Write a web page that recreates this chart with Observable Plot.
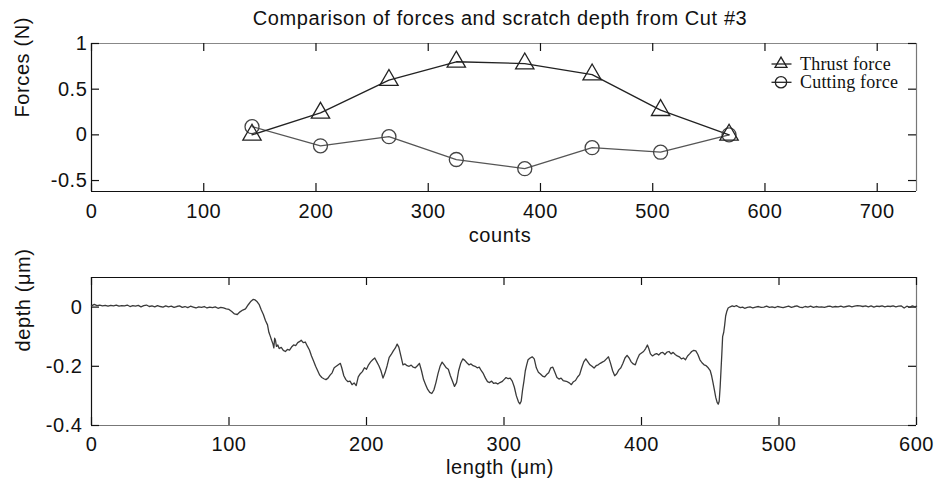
<!DOCTYPE html>
<html>
<head>
<meta charset="utf-8">
<script src="https://cdn.jsdelivr.net/npm/d3@7"></script>
<script src="https://cdn.jsdelivr.net/npm/@observablehq/plot@0.6"></script>
<style>
  body { margin: 0; background: #fff; }
  #wrap { position: relative; width: 934px; height: 487px; font-family: Arial, "Liberation Sans", sans-serif; color: #111; }
  #title { position: absolute; top: 7px; left: 84px; width: 832px; text-align: center; font-size: 20px; letter-spacing: 0.6px; line-height: 22px; white-space: nowrap; }
  #top { position: absolute; top: 0; left: 0; }
  #bot { position: absolute; top: 250px; left: 0; }
  #legend { position: absolute; left: 0; top: 0; font-family: "Liberation Serif", "Times New Roman", serif; font-size: 18px; letter-spacing: 0.2px; }
  #legend svg { position: absolute; left: 765px; top: 50px; display: block; }
  #legend span { position: absolute; left: 800px; line-height: 20px; white-space: nowrap; }
</style>
</head>
<body>
<div id="wrap">
  <div id="top"></div>
  <div id="bot"></div>
  <div id="title">Comparison of forces and scratch depth from Cut #3</div>
  <div id="legend"></div>
</div>
<script>
// ---- Data: forces vs counts ----
const forceCounts  = [143, 204, 265, 325, 386, 446, 507, 568];
const thrustForce  = [0.00, 0.24, 0.60, 0.80, 0.78, 0.66, 0.27, 0.00];
const cuttingForce = [0.09, -0.12, -0.02, -0.27, -0.37, -0.14, -0.19, 0.00];
const forceXTicks  = [0, 100, 200, 300, 400, 500, 600, 700];
const forceYTicks  = [-0.5, 0, 0.5, 1];
const forceXDomain = [0, 735];
const forceYDomain = [-0.62, 1];
const seriesNames  = ["Thrust force", "Cutting force"];

// ---- Data: scratch depth profile [length (µm), depth (µm)] ----
const scanProfile = [
  [0,0.004],[2,0.009],[4,0.005],[6,0.007],[8,0.004],[10,0.006],[12,0.003],[14,0.006],[16,0.004],[18,0.007],
  [20,0.003],[22,0.005],[24,0.004],[26,0.007],[28,0.002],[30,0.005],[32,0.003],[34,0.006],[36,0.001],[38,0.005],
  [40,0.007],[42,0.002],[44,0.004],[46,0.001],[48,0.005],[50,0.002],[52,0.000],[54,0.004],[56,0.001],[58,0.003],
  [60,-0.001],[62,0.002],[64,0.004],[66,-0.001],[68,0.002],[70,-0.002],[72,0.003],[74,0.000],[76,-0.003],[78,0.001],
  [80,-0.001],[82,0.002],[84,-0.003],[86,0.000],[88,-0.002],[90,0.001],[92,-0.004],[94,-0.001],[96,-0.003],[98,-0.006],
  [100,-0.008],[102,-0.015],[104,-0.023],[106,-0.025],[108,-0.016],[110,-0.010],[112,-0.006],[114,0.008],[116,0.020],[117.5,0.026],
  [119,0.024],[120.5,0.018],[122,0.008],[123.5,-0.010],[125,-0.025],[126.5,-0.045],[128,-0.060],[129,-0.085],[130,-0.098],[131,-0.112],
  [132,-0.125],[132.6,-0.138],[133.2,-0.105],[133.8,-0.112],[134.5,-0.133],[135.5,-0.128],[136.5,-0.140],[138,-0.136],[139.5,-0.146],[141,-0.150],
  [142.5,-0.143],[144,-0.145],[145.5,-0.135],[147,-0.128],[148.5,-0.130],[150,-0.120],[151.5,-0.116],[152.5,-0.112],[154,-0.120],[155.5,-0.118],
  [157,-0.132],[158.5,-0.145],[160,-0.165],[161.5,-0.182],[163,-0.200],[164.5,-0.215],[166,-0.230],[167.5,-0.238],[169,-0.242],[170.5,-0.245],
  [172,-0.240],[173.5,-0.230],[175,-0.222],[176.5,-0.205],[178,-0.200],[179.5,-0.195],[181,-0.190],[182,-0.205],[183.5,-0.232],[185,-0.245],
  [186.5,-0.252],[188,-0.250],[189.5,-0.262],[191,-0.256],[192.5,-0.265],[194,-0.236],[195.5,-0.225],[197,-0.218],[198.5,-0.205],[200,-0.210],
  [201.5,-0.195],[203,-0.185],[204.5,-0.178],[206,-0.172],[207.5,-0.185],[209,-0.198],[210.5,-0.215],[212,-0.240],[213.5,-0.222],[215,-0.198],
  [216.5,-0.170],[218,-0.160],[219.5,-0.148],[221,-0.138],[222.3,-0.125],[223.5,-0.135],[225,-0.165],[226.5,-0.195],[228,-0.192],[229.5,-0.198],
  [231,-0.200],[232.5,-0.196],[234,-0.203],[235.5,-0.205],[237,-0.198],[238.5,-0.190],[240,-0.215],[241.5,-0.245],[243,-0.262],[244.5,-0.278],
  [246,-0.288],[247.5,-0.292],[249,-0.280],[250.5,-0.255],[252,-0.225],[253.5,-0.200],[255,-0.186],[256.5,-0.195],[258,-0.205],[259.5,-0.210],
  [261,-0.232],[262.5,-0.250],[264,-0.268],[265.5,-0.255],[267,-0.215],[268.5,-0.190],[270,-0.175],[271.5,-0.180],[273,-0.188],[274.5,-0.195],
  [276,-0.192],[277.5,-0.198],[279,-0.200],[280.5,-0.205],[282,-0.203],[283.5,-0.215],[285,-0.225],[286.5,-0.240],[288,-0.252],[289.5,-0.255],
  [291,-0.250],[292.5,-0.258],[294,-0.256],[295.5,-0.260],[297,-0.255],[298.5,-0.252],[300,-0.245],[301.5,-0.238],[303,-0.242],[304.5,-0.240],
  [306,-0.250],[307.5,-0.270],[309,-0.300],[310.5,-0.320],[311.5,-0.327],[312.5,-0.318],[313.5,-0.280],[314.5,-0.250],[315.5,-0.215],[316.5,-0.195],
  [317.5,-0.178],[319,-0.172],[320.5,-0.168],[322,-0.175],[323.5,-0.205],[325,-0.220],[326.5,-0.226],[328,-0.233],[329.5,-0.236],[331,-0.228],
  [332.5,-0.222],[334,-0.205],[335.5,-0.203],[337,-0.220],[338.5,-0.238],[340,-0.243],[341.5,-0.240],[343,-0.248],[344.5,-0.250],[346,-0.252],
  [347.5,-0.256],[349,-0.262],[350.5,-0.252],[352,-0.248],[353.5,-0.236],[355,-0.228],[356.5,-0.205],[358,-0.185],[359.5,-0.175],[361,-0.185],
  [362.5,-0.195],[364,-0.200],[365.5,-0.206],[367,-0.198],[368.5,-0.195],[370,-0.190],[371.5,-0.186],[373,-0.182],[374.5,-0.175],[376,-0.168],
  [377.5,-0.190],[379,-0.215],[380.5,-0.232],[382,-0.225],[383.5,-0.212],[385,-0.205],[386.5,-0.190],[388,-0.172],[389.5,-0.163],[391,-0.172],
  [392.5,-0.185],[394,-0.192],[395.5,-0.195],[397,-0.175],[398.5,-0.160],[400,-0.155],[401.5,-0.150],[403,-0.140],[404.3,-0.128],[405.3,-0.140],
  [406.5,-0.158],[408,-0.165],[409.5,-0.160],[411,-0.157],[412.5,-0.162],[414,-0.155],[415.5,-0.153],[417,-0.160],[418.5,-0.152],[420,-0.150],
  [421.5,-0.158],[423,-0.153],[424.5,-0.160],[426,-0.165],[427.5,-0.168],[429,-0.175],[430.5,-0.172],[432,-0.178],[433.5,-0.165],[435,-0.158],
  [436.5,-0.150],[438,-0.146],[439.5,-0.148],[441,-0.160],[442.5,-0.178],[444,-0.188],[445.5,-0.195],[447,-0.198],[448.5,-0.205],[450,-0.215],
  [451,-0.232],[452,-0.255],[453,-0.280],[454,-0.305],[455,-0.322],[455.8,-0.328],[456.5,-0.318],[457.2,-0.270],[457.8,-0.215],[458.4,-0.160],
  [459,-0.100],[459.8,-0.085],[460.5,-0.060],[461.2,-0.030],[462,-0.015],[463,-0.003],[464.5,0.001],[466,0.004],[467.5,0.002],[469,0.005],
  [470.5,0.001],[472,-0.002],[473.5,0.000],[475,-0.004],[477,-0.001],[479,0.001],[481,-0.003],[483,0.000],[485,0.002],[487,-0.001],
  [489,0.000],[491,0.003],[493,-0.001],[495,0.001],[497,-0.002],[499,0.002],[501,0.000],[503,-0.002],[505,0.001],[507,0.003],
  [509,-0.001],[511,0.002],[513,0.004],[515,0.000],[517,-0.002],[519,0.002],[521,0.000],[523,0.003],[525,-0.001],[527,0.002],
  [529,0.000],[531,0.001],[533,-0.001],[535,0.002],[537,0.003],[539,0.000],[541,0.002],[543,0.001],[545,0.003],[547,0.000],
  [549,0.002],[551,0.004],[553,0.001],[555,0.003],[557,0.005],[559,0.004],[561,0.002],[563,0.004],[565,0.001],[567,0.004],
  [569,0.000],[571,0.003],[573,0.002],[575,0.004],[577,0.001],[579,0.003],[581,0.002],[583,0.004],[585,0.001],[587,0.003],
  [589,0.004],[591,-0.003],[593,0.003],[595,-0.001],[597,0.004],[599,0.001],[600,0.003]
];
const depthXTicks  = [0, 100, 200, 300, 400, 500, 600];
const depthYTicks  = [-0.4, -0.2, 0];
const depthXDomain = [0, 600];
const depthYDomain = [-0.4, 0.1];

// ---- Build tables ----
const forceRows = forceCounts.map((c, i) => ({count: c, thrust: thrustForce[i], cutting: cuttingForce[i]}));
const depthRows = scanProfile.map(([l, d]) => ({length: l, depth: d}));

const W = 934, ML = 91, MR = 18, TICK = 8;
const fontStyle = {fontFamily: "Arial, 'Liberation Sans', sans-serif", fontSize: "20px", letterSpacing: "0.6px", color: "#111", background: "transparent", overflow: "visible"};
const fmt = d => String(d);

function box(xDomain, yDomain, xTicks, yTicks, frameW, frameH, topDark) {
  return [
    Plot.ruleX([xDomain[0]], {stroke: "#111", strokeWidth: 1.2}),
    Plot.ruleX([xDomain[1]], {stroke: "#777", strokeWidth: 1.2}),
    Plot.ruleY([yDomain[0]], {stroke: topDark ? "#777" : "#111", strokeWidth: 1.2}),
    Plot.ruleY([yDomain[1]], {stroke: topDark ? "#111" : "#888", strokeWidth: 1.2}),
    Plot.ruleX(xTicks, {x: d => d, insetTop: frameH - TICK, stroke: "#111", strokeWidth: 1.2}),
    Plot.ruleX(xTicks, {x: d => d, insetBottom: frameH - TICK, stroke: "#111", strokeWidth: 1.2}),
    Plot.ruleY(yTicks, {y: d => d, insetRight: frameW - TICK, stroke: "#111", strokeWidth: 1.2}),
    Plot.ruleY(yTicks, {y: d => d, insetLeft: frameW - TICK, stroke: "#111", strokeWidth: 1.2})
  ];
}

// ---- Top chart ----
{
  const H = 250, MT = 43, MB = 59;
  const frameW = W - ML - MR, frameH = H - MT - MB;
  const chart = Plot.plot({
    width: W, height: H, marginTop: MT, marginBottom: MB, marginLeft: ML, marginRight: MR,
    style: fontStyle,
    x: {domain: forceXDomain},
    y: {domain: forceYDomain},
    marks: [
      Plot.axisX(forceXTicks, {tickSize: 0, tickPadding: 12, label: null, tickFormat: fmt}),
      Plot.axisY(forceYTicks, {tickSize: 0, tickPadding: 4, label: null, tickFormat: fmt}),
      ...box(forceXDomain, forceYDomain, forceXTicks, forceYTicks, frameW, frameH, false),
      Plot.line(forceRows, {x: "count", y: "cutting", stroke: "#555", strokeWidth: 1.3}),
      Plot.line(forceRows, {x: "count", y: "thrust", stroke: "#222", strokeWidth: 1.3}),
      Plot.dot(forceRows, {x: "count", y: "cutting", symbol: "circle", r: 7, stroke: "#444", strokeWidth: 1.3, fill: "none"}),
      Plot.dot(forceRows, {x: "count", y: "thrust", symbol: "triangle", r: 6.8, stroke: "#222", strokeWidth: 1.3, fill: "none"}),
      Plot.text(["counts"], {frameAnchor: "bottom", dy: 50, dx: -4}),
      Plot.text(["Forces (N)"], {frameAnchor: "left", dx: -69, rotate: -90})
    ]
  });
  document.getElementById("top").append(chart);
}

// ---- Bottom chart ----
{
  const H = 237, MT = 27, MB = 62;
  const frameW = W - ML - MR, frameH = H - MT - MB;
  const chart = Plot.plot({
    width: W, height: H, marginTop: MT, marginBottom: MB, marginLeft: ML, marginRight: MR,
    style: fontStyle,
    x: {domain: depthXDomain},
    y: {domain: depthYDomain},
    marks: [
      Plot.axisX(depthXTicks, {tickSize: 0, tickPadding: 11, label: null, tickFormat: fmt}),
      Plot.axisY(depthYTicks, {tickSize: 0, tickPadding: 9, label: null, tickFormat: fmt}),
      ...box(depthXDomain, depthYDomain, depthXTicks, depthYTicks, frameW, frameH, true),
      Plot.line(depthRows, {x: "length", y: "depth", stroke: "#3a3a3a", strokeWidth: 1.3}),
      Plot.text(["length (μm)"], {frameAnchor: "bottom", dy: 48, dx: -4}),
      Plot.text(["depth (μm)"], {frameAnchor: "left", dx: -68, rotate: -90})
    ]
  });
  document.getElementById("bot").append(chart);
}

// ---- Legend (inside top axes, upper right) ----
{
  const legend = document.getElementById("legend");
  const syms = [d3.symbolTriangle, d3.symbolCircle];
  const sizes = [62, 100];
  const rowY = [14, 32.3];   // row centres inside the legend box
  const svg = d3.create("svg").attr("width", 35).attr("height", 45);
  seriesNames.forEach((name, i) => {
    svg.append("line").attr("x1", 6.5).attr("x2", 26.5).attr("y1", rowY[i]).attr("y2", rowY[i])
      .attr("stroke", "#222").attr("stroke-width", 1.3);
    svg.append("path").attr("d", d3.symbol(syms[i], sizes[i])()).attr("transform", `translate(16,${rowY[i]})`)
      .attr("fill", "none").attr("stroke", "#222").attr("stroke-width", 1.3);
    const label = document.createElement("span");
    label.textContent = name;
    label.style.top = (50 + rowY[i] - 10) + "px";
    legend.append(label);
  });
  legend.append(svg.node());
}
</script>
</body>
</html>
